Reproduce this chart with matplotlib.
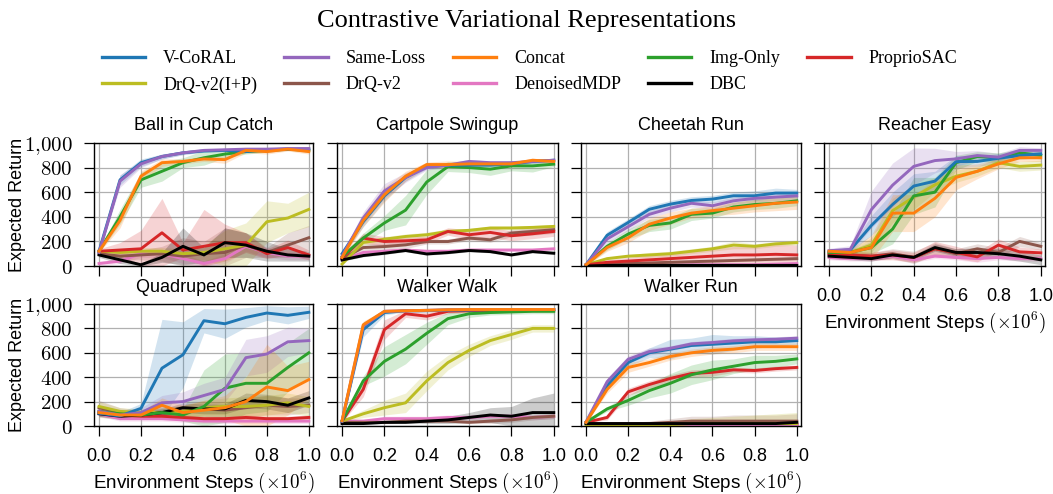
import matplotlib
matplotlib.use("Agg")
import matplotlib.pyplot as plt
import numpy as np
from matplotlib.ticker import FuncFormatter, MultipleLocator
from matplotlib.lines import Line2D

plt.rcParams['mathtext.fontset'] = 'cm'
plt.rcParams['font.family'] = ['Liberation Sans', 'DejaVu Sans']

steps = [0.0, 0.1, 0.2, 0.3, 0.4, 0.5, 0.6, 0.7, 0.8, 0.9, 1.0]

methods = ["V-CoRAL", "Same-Loss", "Concat", "Img-Only", "ProprioSAC",
           "DrQ-v2(I+P)", "DrQ-v2", "DenoisedMDP", "DBC"]
colors = {"V-CoRAL": "tab:blue", "Same-Loss": "tab:purple", "Concat": "tab:orange",
          "Img-Only": "tab:green", "ProprioSAC": "tab:red", "DrQ-v2(I+P)": "tab:olive",
          "DrQ-v2": "tab:brown", "DenoisedMDP": "tab:pink", "DBC": "black"}
draw_order = ["DenoisedMDP", "DrQ-v2", "DrQ-v2(I+P)", "ProprioSAC", "DBC",
              "Img-Only", "V-CoRAL", "Same-Loss", "Concat"]

tasks = ["Ball in Cup Catch", "Cartpole Swingup", "Cheetah Run", "Reacher Easy",
         "Quadruped Walk", "Walker Walk", "Walker Run"]

ball_cup = {
    "V-CoRAL":     [120, 700, 840, 890, 920, 935, 940, 930, 945, 950, 950],
    "Same-Loss":   [110, 690, 830, 890, 920, 940, 945, 950, 950, 955, 955],
    "Concat":      [120, 370, 730, 840, 850, 870, 865, 940, 930, 950, 930],
    "Img-Only":    [120, 400, 700, 770, 840, 880, 910, 930, 940, 950, 940],
    "ProprioSAC":  [120, 130, 140, 270, 130, 160, 190, 190, 100, 150, 90],
    "DrQ-v2(I+P)": [120, 110, 120, 120, 100, 110, 140, 170, 360, 390, 460],
    "DrQ-v2":      [100, 80, 90, 100, 80, 100, 110, 170, 110, 170, 230],
    "DenoisedMDP": [20, 40, 100, 100, 60, 20, 60, 160, 110, 80, 80],
    "DBC":         [90, 50, 10, 70, 160, 90, 190, 170, 120, 90, 80],
}
ball_cup_std = {
    "V-CoRAL":     [10, 40, 30, 20, 15, 10, 10, 10, 20, 10, 10],
    "Same-Loss":   [10, 50, 30, 20, 15, 10, 10, 10, 10, 10, 10],
    "Concat":      [10, 60, 40, 30, 20, 20, 30, 20, 20, 15, 20],
    "Img-Only":    [10, 60, 60, 80, 40, 60, 30, 20, 15, 10, 15],
    "ProprioSAC":  [20, 60, 150, 280, 60, 300, 150, 80, 40, 60, 40],
    "DrQ-v2(I+P)": [10, 30, 30, 30, 40, 60, 150, 180, 170, 120, 140],
    "DrQ-v2":      [20, 30, 40, 60, 150, 100, 200, 100, 40, 100, 100],
    "DenoisedMDP": [20, 20, 30, 30, 40, 20, 40, 40, 40, 30, 30],
    "DBC":         [20, 30, 10, 40, 150, 60, 120, 100, 80, 50, 40],
}

cartpole = {
    "V-CoRAL":     [100, 360, 570, 720, 810, 820, 820, 820, 830, 850, 860],
    "Same-Loss":   [80, 390, 610, 720, 800, 820, 850, 840, 840, 850, 860],
    "Concat":      [70, 370, 580, 730, 825, 825, 830, 830, 830, 860, 850],
    "Img-Only":    [76, 227, 350, 454, 683, 808, 800, 787, 814, 814, 828],
    "ProprioSAC":  [63, 227, 199, 205, 213, 281, 254, 273, 246, 262, 281],
    "DrQ-v2(I+P)": [16, 191, 218, 240, 254, 281, 290, 309, 309, 314, 322],
    "DrQ-v2":      [60, 150, 158, 172, 199, 199, 227, 213, 268, 281, 295],
    "DenoisedMDP": [50, 110, 120, 130, 120, 120, 130, 130, 130, 130, 140],
    "DBC":         [49, 85, 104, 126, 98, 109, 126, 117, 90, 117, 104],
}
cartpole_std = {
    "V-CoRAL":     [20, 40, 40, 30, 20, 15, 15, 15, 15, 15, 15],
    "Same-Loss":   [20, 50, 60, 40, 20, 20, 15, 15, 15, 15, 15],
    "Concat":      [20, 50, 60, 40, 20, 30, 20, 15, 15, 15, 15],
    "Img-Only":    [20, 40, 60, 120, 100, 40, 40, 50, 40, 50, 20],
    "ProprioSAC":  [20, 40, 40, 30, 30, 30, 40, 40, 40, 40, 40],
    "DrQ-v2(I+P)": [10, 20, 20, 20, 20, 20, 15, 15, 15, 15, 15],
    "DrQ-v2":      [20, 30, 30, 30, 20, 20, 20, 20, 30, 30, 30],
    "DenoisedMDP": [10, 10, 10, 10, 10, 10, 10, 10, 10, 10, 10],
    "DBC":         [10, 10, 10, 10, 10, 10, 10, 10, 10, 10, 10],
}

cheetah = {
    "V-CoRAL":     [10, 250, 354, 461, 503, 533, 544, 571, 571, 593, 593],
    "Same-Loss":   [10, 220, 320, 420, 470, 510, 490, 530, 550, 560, 570],
    "Concat":      [10, 150, 230, 340, 390, 430, 450, 470, 490, 510, 520],
    "Img-Only":    [10, 160, 260, 330, 350, 420, 430, 480, 500, 510, 530],
    "ProprioSAC":  [10, 30, 40, 50, 60, 70, 80, 90, 90, 95, 90],
    "DrQ-v2(I+P)": [10, 60, 80, 90, 100, 120, 140, 170, 160, 180, 190],
    "DrQ-v2":      [5, 15, 20, 25, 30, 35, 40, 45, 50, 55, 60],
    "DenoisedMDP": [5, 5, 5, 5, 5, 10, 10, 10, 10, 15, 20],
    "DBC":         [0, 5, 5, 5, 5, 5, 5, 5, 5, 5, 5],
}
cheetah_std = {
    "V-CoRAL":     [10, 30, 30, 30, 30, 30, 30, 30, 40, 40, 30],
    "Same-Loss":   [10, 30, 30, 30, 30, 30, 30, 30, 30, 30, 30],
    "Concat":      [10, 30, 40, 50, 50, 40, 40, 50, 50, 60, 60],
    "Img-Only":    [10, 30, 40, 50, 50, 50, 40, 40, 40, 40, 40],
    "ProprioSAC":  [5, 20, 30, 40, 50, 60, 60, 70, 70, 80, 80],
    "DrQ-v2(I+P)": [5, 10, 10, 20, 20, 20, 20, 30, 20, 20, 20],
    "DrQ-v2":      [5, 10, 10, 10, 10, 10, 10, 10, 10, 10, 10],
    "DenoisedMDP": [5, 5, 5, 5, 5, 5, 5, 5, 5, 5, 5],
    "DBC":         [2, 2, 2, 2, 2, 2, 2, 2, 2, 2, 2],
}

reacher = {
    "V-CoRAL":     [120, 130, 330, 500, 650, 690, 849, 850, 876, 898, 912],
    "Same-Loss":   [124, 135, 459, 657, 810, 857, 871, 898, 885, 940, 940],
    "Concat":      [120, 110, 150, 430, 430, 550, 720, 770, 830, 880, 880],
    "Img-Only":    [110, 110, 150, 300, 570, 600, 840, 890, 880, 920, 900],
    "ProprioSAC":  [100, 90, 80, 90, 70, 140, 110, 74, 170, 115, 107],
    "DrQ-v2(I+P)": [110, 110, 170, 450, 560, 660, 730, 770, 840, 810, 820],
    "DrQ-v2":      [90, 90, 80, 100, 70, 140, 100, 140, 110, 200, 160],
    "DenoisedMDP": [70, 60, 60, 80, 50, 80, 70, 60, 70, 60, 60],
    "DBC":         [80, 70, 60, 90, 70, 150, 110, 110, 100, 80, 50],
}
reacher_std = {
    "V-CoRAL":     [20, 20, 80, 100, 100, 80, 50, 40, 40, 30, 30],
    "Same-Loss":   [20, 30, 150, 180, 150, 100, 60, 40, 30, 30, 20],
    "Concat":      [20, 30, 100, 150, 150, 150, 100, 60, 40, 30, 30],
    "Img-Only":    [20, 20, 50, 120, 150, 120, 60, 40, 40, 30, 30],
    "ProprioSAC":  [30, 30, 30, 40, 40, 60, 50, 40, 50, 40, 30],
    "DrQ-v2(I+P)": [20, 20, 60, 100, 100, 60, 50, 40, 40, 40, 40],
    "DrQ-v2":      [30, 30, 30, 40, 50, 50, 40, 40, 40, 40, 30],
    "DenoisedMDP": [20, 20, 20, 20, 20, 20, 20, 30, 20, 20, 20],
    "DBC":         [20, 20, 20, 20, 20, 30, 30, 40, 40, 40, 40],
}

quadruped = {
    "V-CoRAL":     [104, 82, 145, 474, 584, 863, 838, 890, 926, 907, 932],
    "Same-Loss":   [120, 90, 110, 190, 200, 250, 300, 560, 590, 690, 700],
    "Concat":      [110, 90, 90, 170, 110, 130, 150, 200, 320, 290, 380],
    "Img-Only":    [120, 100, 90, 110, 90, 160, 310, 350, 350, 480, 600],
    "ProprioSAC":  [120, 90, 80, 80, 70, 60, 60, 70, 60, 60, 70],
    "DrQ-v2(I+P)": [160, 120, 110, 110, 120, 150, 160, 160, 170, 190, 160],
    "DrQ-v2":      [150, 110, 100, 100, 120, 140, 130, 150, 170, 160, 170],
    "DenoisedMDP": [100, 60, 60, 60, 50, 40, 40, 40, 40, 40, 40],
    "DBC":         [100, 80, 90, 110, 150, 140, 140, 210, 200, 170, 230],
}
quadruped_std = {
    "V-CoRAL":     [30, 30, 40, 400, 270, 100, 120, 80, 60, 70, 50],
    "Same-Loss":   [40, 30, 40, 60, 80, 100, 100, 150, 150, 120, 100],
    "Concat":      [40, 30, 30, 60, 60, 80, 100, 200, 350, 200, 150],
    "Img-Only":    [40, 30, 30, 40, 50, 300, 280, 250, 230, 200, 200],
    "ProprioSAC":  [30, 20, 20, 20, 20, 20, 20, 20, 20, 20, 20],
    "DrQ-v2(I+P)": [40, 30, 30, 40, 50, 60, 70, 80, 80, 80, 80],
    "DrQ-v2":      [60, 40, 30, 40, 50, 60, 70, 80, 80, 70, 60],
    "DenoisedMDP": [20, 20, 20, 20, 20, 20, 20, 20, 20, 20, 20],
    "DBC":         [20, 20, 20, 30, 40, 40, 40, 60, 60, 60, 60],
}

walker_walk = {
    "V-CoRAL":     [40, 790, 930, 945, 945, 950, 950, 955, 955, 955, 955],
    "Same-Loss":   [40, 820, 940, 945, 948, 953, 955, 955, 955, 955, 955],
    "Concat":      [44, 830, 940, 945, 948, 953, 955, 955, 955, 955, 955],
    "Img-Only":    [40, 370, 530, 630, 760, 880, 920, 930, 935, 940, 940],
    "ProprioSAC":  [40, 300, 790, 920, 900, 940, 945, 945, 950, 950, 950],
    "DrQ-v2(I+P)": [40, 100, 150, 190, 370, 520, 620, 700, 750, 800, 800],
    "DrQ-v2":      [30, 30, 30, 40, 40, 40, 30, 40, 50, 70, 80],
    "DenoisedMDP": [40, 40, 60, 60, 60, 70, 70, 80, 80, 70, 80],
    "DBC":         [20, 20, 30, 30, 40, 50, 70, 90, 80, 110, 110],
}
walker_walk_std = {
    "V-CoRAL":     [10, 60, 20, 10, 10, 10, 10, 10, 10, 10, 10],
    "Same-Loss":   [10, 30, 15, 10, 10, 10, 10, 10, 10, 10, 10],
    "Concat":      [10, 30, 15, 10, 10, 10, 10, 10, 10, 10, 10],
    "Img-Only":    [10, 40, 120, 120, 90, 50, 30, 20, 20, 20, 20],
    "ProprioSAC":  [10, 60, 80, 30, 30, 20, 15, 15, 15, 15, 15],
    "DrQ-v2(I+P)": [10, 30, 60, 80, 80, 60, 50, 40, 40, 30, 30],
    "DrQ-v2":      [5, 5, 10, 10, 10, 10, 10, 20, 20, 20, 20],
    "DenoisedMDP": [10, 10, 20, 20, 20, 20, 20, 20, 20, 20, 20],
    "DBC":         [5, 5, 10, 10, 20, 30, 40, 60, 80, 120, 160],
}

walker_run = {
    "V-CoRAL":     [30, 330, 520, 600, 630, 660, 670, 680, 690, 690, 700],
    "Same-Loss":   [33, 363, 547, 610, 637, 673, 684, 698, 706, 711, 720],
    "Concat":      [30, 300, 480, 520, 570, 600, 620, 630, 650, 650, 650],
    "Img-Only":    [30, 140, 210, 290, 350, 420, 460, 490, 520, 530, 550],
    "ProprioSAC":  [30, 70, 280, 340, 390, 430, 440, 460, 455, 470, 480],
    "DrQ-v2(I+P)": [10, 10, 10, 10, 10, 20, 20, 20, 20, 20, 20],
    "DrQ-v2":      [20, 20, 20, 20, 30, 40, 40, 40, 40, 40, 40],
    "DenoisedMDP": [20, 20, 20, 20, 20, 20, 20, 20, 20, 20, 20],
    "DBC":         [20, 20, 20, 20, 20, 20, 20, 20, 20, 20, 30],
}
walker_run_std = {
    "V-CoRAL":     [5, 30, 30, 40, 80, 60, 80, 60, 50, 40, 30],
    "Same-Loss":   [5, 30, 30, 30, 20, 20, 20, 20, 20, 20, 20],
    "Concat":      [5, 30, 40, 30, 30, 30, 30, 30, 30, 30, 30],
    "Img-Only":    [5, 20, 40, 60, 80, 80, 80, 60, 60, 50, 40],
    "ProprioSAC":  [5, 20, 30, 30, 30, 30, 30, 20, 20, 20, 20],
    "DrQ-v2(I+P)": [5, 5, 10, 20, 30, 40, 50, 60, 70, 80, 90],
    "DrQ-v2":      [5, 5, 10, 20, 30, 40, 40, 50, 50, 50, 60],
    "DenoisedMDP": [5, 5, 5, 5, 5, 5, 5, 5, 5, 5, 5],
    "DBC":         [5, 5, 5, 5, 5, 5, 5, 5, 5, 5, 5],
}

task_means = [ball_cup, cartpole, cheetah, reacher, quadruped, walker_walk, walker_run]
task_stds = [ball_cup_std, cartpole_std, cheetah_std, reacher_std, quadruped_std,
             walker_walk_std, walker_run_std]

W, H = 1053, 494
fig = plt.figure(figsize=(W / 100, H / 100), dpi=100)

col_px = [(94, 313), (337, 558), (581, 801), (824, 1045)]
row_px = [(143, 266), (304, 426)]
positions = [(0, 0), (0, 1), (0, 2), (0, 3), (1, 0), (1, 1), (1, 2)]

serif = ['Liberation Serif', 'DejaVu Serif']
sans = ['Liberation Sans', 'DejaVu Sans']

yfmt = FuncFormatter(lambda v, p: "$" + f"{int(round(v)):,}".replace(",", "{,}") + "$")

for i, (r, c) in enumerate(positions):
    x0, x1 = col_px[c]
    y0, y1 = row_px[r]
    ax = fig.add_axes([x0 / W, 1 - y1 / H, (x1 - x0) / W, (y1 - y0) / H])
    means = task_means[i]
    stds = task_stds[i]
    xs = np.array(steps)
    for m in draw_order:
        mu = np.array(means[m], dtype=float)
        sd = np.array(stds[m], dtype=float)
        ax.fill_between(xs, np.clip(mu - sd, 0, None), mu + sd, color=colors[m],
                        alpha=0.2, linewidth=0)
        ax.plot(xs, mu, color=colors[m], linewidth=2.1)
    ax.set_xlim(-0.024, 1.02)
    ax.set_ylim(0, 1000)
    ax.xaxis.set_major_locator(MultipleLocator(0.2))
    ax.yaxis.set_major_locator(MultipleLocator(200))
    ax.grid(True, color='#b0b0b0', linewidth=0.9)
    ax.set_axisbelow(True)
    ax.tick_params(direction='out', length=7.5, width=0.9, pad=8, labelsize=13)
    for s in ax.spines.values():
        s.set_linewidth(1.0)
        s.set_color('black')
    ax.set_title(tasks[i], fontsize=13, family=sans, pad=9)
    if c == 0:
        ax.yaxis.set_major_formatter(yfmt)
        for t in ax.get_yticklabels():
            t.set_fontsize(15)
        ax.set_ylabel("Expected Return", fontsize=13, family=sans)
        ax.yaxis.set_label_coords(-0.31, 0.5)
    else:
        ax.set_yticklabels([])
    if r == 1 or c == 3:
        ax.xaxis.set_major_formatter(FuncFormatter(lambda v, p: f"{v:.1f}"))
        for t in ax.get_xticklabels():
            t.set_family(sans)
        ax.set_xlabel("Environment Steps $(\\times 10^6)$", fontsize=13.6, family=sans,
                      labelpad=4)
    else:
        ax.set_xticklabels([])

fig.text(0.5, 1 - 21 / H, "Contrastive Variational Representations", ha='center',
         va='center', fontsize=19, family=serif)

legend_order = ["V-CoRAL", "DrQ-v2(I+P)", "Same-Loss", "DrQ-v2", "Concat",
                "DenoisedMDP", "Img-Only", "DBC", "ProprioSAC"]
handles = [Line2D([0], [0], color=colors[m], linewidth=2.4) for m in legend_order]
fig.legend(handles, legend_order, loc='center', bbox_to_anchor=(0.503, 1 - 72 / H),
           ncol=5, frameon=False, prop={'family': serif, 'size': 13},
           handlelength=2.4, handletextpad=1.0, columnspacing=1.5, labelspacing=0.5)

fig.savefig("out.png", dpi=100)
